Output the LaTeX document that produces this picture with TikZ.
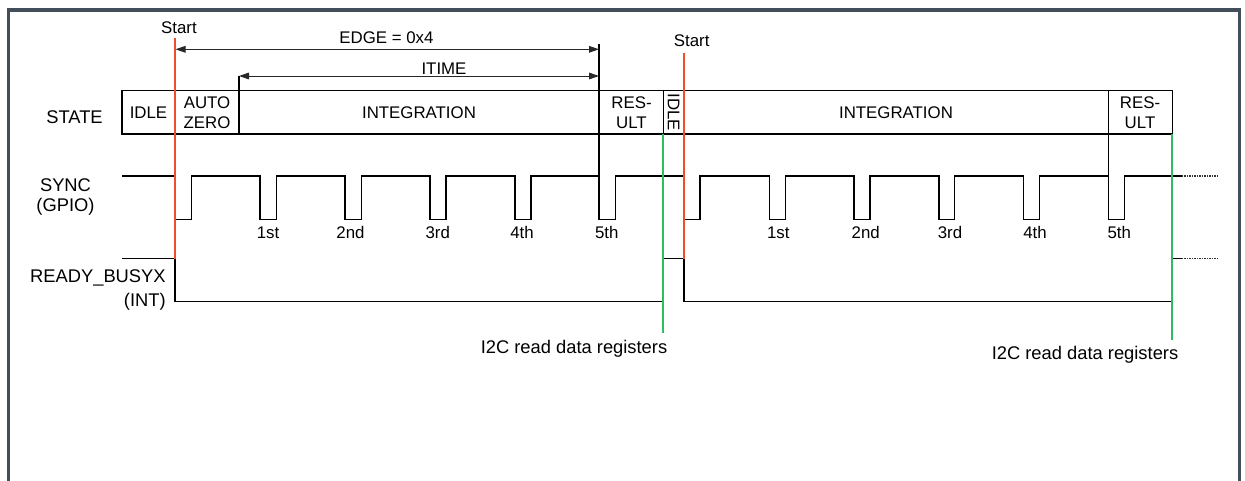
\documentclass[tikz,border=0pt]{standalone}
\usepackage{fontspec}
\setmainfont{Liberation Sans}
\usetikzlibrary{arrows.meta}
\definecolor{frameC}{RGB}{66,78,90}
\definecolor{startC}{RGB}{240,78,40}
\definecolor{readC}{RGB}{45,190,100}
\definecolor{arrC}{RGB}{40,40,40}
\begin{document}
\begin{tikzpicture}[x=0.6pt,y=-0.6pt,
  txt/.style={font=\fontsize{10.1pt}{12pt}\selectfont, inner sep=0pt},
  lbl/.style={font=\fontsize{11pt}{13pt}\selectfont, inner sep=0pt},
  wave/.style={line width=0.7pt, black, line join=miter},
  stbox/.style={draw, line width=0.8pt},
  dots/.style={line width=0.7pt, black!80, dash pattern=on 0.8pt off 0.7pt},
  mark1/.style={line width=0.9pt, startC},
  mark2/.style={line width=1pt, readC},
  dim/.style={line width=0.6pt, arrC, {Triangle[length=6pt,width=4pt]}-{Triangle[length=6pt,width=4pt]}},
  tick/.style={line width=0.7pt, black}]
\useasboundingbox (0,0) rectangle (1245,480);
% frame
\draw[frameC, line width=2pt, line join=miter] (8.3,482) -- (8.3,10) -- (1239.5,10) -- (1239.5,482);

% row labels
\node[lbl, anchor=base] (lState) at (74.5,123.3) {STATE};
\node[lbl, anchor=base] (lSync) at (65.5,191.7) {SYNC};
\node[lbl, anchor=base] (lGpio) at (65.5,211.3) {(GPIO)};
\node[lbl, anchor=base east] (lRdy) at (166,282.7) {READY\_BUSYX};
\node[lbl, anchor=base east] (lInt) at (166,306.7) {(INT)};

% state boxes
\draw[stbox] (122,90.7) rectangle (1172.3,134);
\foreach \xx in {175,239,599,663.3,684,1108.3}
  \draw[stbox] (\xx,90.7) -- (\xx,134);
\node[txt] (sIdle1) at (148.5,112.3) {IDLE};
\node[txt, align=center] (sAuto) at (207,112.3) {AUTO\\ZERO};
\node[txt] (sInt1) at (419,112.3) {INTEGRATION};
\node[txt, align=center] (sRes1) at (631.5,112.3) {RES-\\ULT};
\node[txt, rotate=-90] (sIdle2) at (673.7,112.3) {IDLE};
\node[txt] (sInt2) at (896,112.3) {INTEGRATION};
\node[txt, align=center] (sRes2) at (1140,112.3) {RES-\\ULT};

% dimension arrows
\coordinate (eL) at (175.5,49.3);
\coordinate (eR) at (599,49.3);
\coordinate (iL) at (239,76);
\coordinate (iR) at (599,76);
\draw[dim] (eL) -- (eR);
\draw[dim] (iL) -- (iR);
\node[txt, anchor=base] (tEdge) at (386.5,43.3) {EDGE = 0x4};
\node[txt, anchor=base] (tItime) at (444,74) {ITIME};
\draw[tick] (239,76) -- (239,90.7);
\draw[tick] (599,44) -- (599,176);
\draw[tick] (1108.3,134) -- (1108.3,176);

% SYNC waveform
\draw[wave] (122,176) -- (175,176) -- (175,219.3) -- (191.5,219.3) -- (191.5,176)
 -- (260,176) -- (260,219.3) -- (276.5,219.3) -- (276.5,176)
 -- (345,176) -- (345,219.3) -- (361.5,219.3) -- (361.5,176)
 -- (430,176) -- (430,219.3) -- (446,219.3) -- (446,176)
 -- (515,176) -- (515,219.3) -- (531,219.3) -- (531,176)
 -- (599,176) -- (599,219.3) -- (615.7,219.3) -- (615.7,176)
 -- (684,176) -- (684,219.3) -- (700,219.3) -- (700,176)
 -- (769.3,176) -- (769.3,219.3) -- (785.7,219.3) -- (785.7,176)
 -- (854,176) -- (854,219.3) -- (870,219.3) -- (870,176)
 -- (939,176) -- (939,219.3) -- (954.5,219.3) -- (954.5,176)
 -- (1023.5,176) -- (1023.5,219.3) -- (1039.3,219.3) -- (1039.3,176)
 -- (1108.3,176) -- (1108.3,219.3) -- (1124.3,219.3) -- (1124.3,176)
 -- (1181.7,176);
\draw[dots] (1181.7,176) -- (1217,176);

% pulse labels
\foreach \xx/\tt/\nn in {268/1st/a1, 350.5/2nd/a2, 437.7/3rd/a3, 522/4th/a4, 606.7/5th/a5,
    778.3/1st/b1, 865.7/2nd/b2, 950/3rd/b3, 1035/4th/b4, 1119.3/5th/b5}
  \node[txt, anchor=base] (p\nn) at (\xx,238.3) {\tt};

% READY_BUSYX waveform
\draw[wave] (122,258.7) -- (175,258.7) -- (175,301.7) -- (663.3,301.7) -- (663.3,258.7)
 -- (684,258.7) -- (684,301.7) -- (1172.3,301.7) -- (1172.3,258.7) -- (1181.7,258.7);
\draw[dots] (1181.7,258.7) -- (1217,258.7);

% start markers
\node[txt, anchor=base] (st1) at (179,33.3) {Start};
\node[txt, anchor=base] (st2) at (691.7,46.7) {Start};
\draw[mark1] (175,38) -- (175,258.7);
\draw[mark1] (684,53) -- (684,258.7);

% read markers
\draw[mark2] (663.3,134) -- (663.3,333);
\draw[mark2] (1172.3,134) -- (1172.3,340);
\node[lbl, anchor=base] (rd1) at (574,353.5) {I2C read data registers};
\node[lbl, anchor=base] (rd2) at (1085,359.5) {I2C read data registers};
\end{tikzpicture}
\end{document}
